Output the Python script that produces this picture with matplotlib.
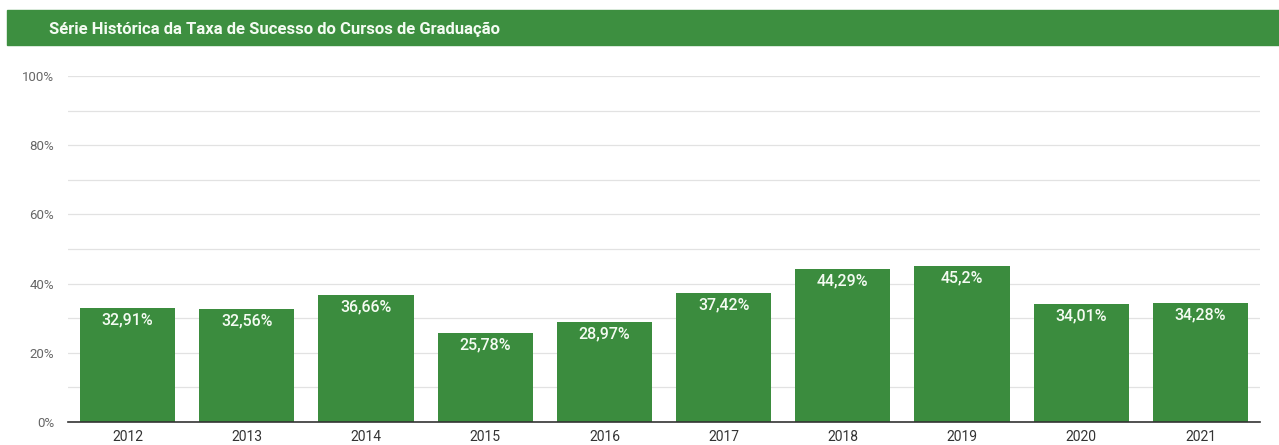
import matplotlib
matplotlib.use("Agg")
import matplotlib.pyplot as plt
from matplotlib.patches import Rectangle

# data
anos = ["2012", "2013", "2014", "2015", "2016", "2017", "2018", "2019", "2020", "2021"]
taxas = [32.91, 32.56, 36.66, 25.78, 28.97, 37.42, 44.29, 45.2, 34.01, 34.28]
rotulos = ["32,91%", "32,56%", "36,66%", "25,78%", "28,97%", "37,42%", "44,29%", "45,2%", "34,01%", "34,28%"]
yticks = [0, 20, 40, 60, 80, 100]
ytick_labels = ["0%", "20%", "40%", "60%", "80%", "100%"]

titulo = "Série Histórica da Taxa de Sucesso do Cursos de Graduação"
verde = "#3b8c3e"

plt.rcParams['font.family'] = ['Roboto', 'DejaVu Sans']

W, H = 1279, 445
fig = plt.figure(figsize=(W / 100, H / 100), dpi=100)

# title banner
fig.patches.append(Rectangle((7 / W, 1 - 45 / H), 1 - 7 / W, 35 / H,
                             transform=fig.transFigure, color="#3d8f40", zorder=0))
fig.text(49 / W, 1 - 34 / H, titulo, color="#f4fbf2", fontsize=12,
         fontweight="bold", va="baseline", ha="left")

ax = fig.add_axes([68 / W, 1 - 422 / H, (1260 - 68) / W, (422 - 76) / H])
x = range(len(anos))
bars = ax.bar(x, taxas, width=0.8, color=verde, zorder=3)

for b, lab in zip(bars, rotulos):
    ax.text(b.get_x() + b.get_width() / 2, b.get_height() - 1.3, lab,
            ha="center", va="top", color="#f4fbf2", fontsize=11.5,
            fontweight="medium", zorder=4)

ax.set_xlim(-0.5, len(anos) - 0.5)
ax.set_ylim(0, 100)
ax.set_yticks(yticks)
ax.set_yticklabels(ytick_labels, fontsize=9.5, color="#666666")
ax.set_yticks(range(10, 100, 20), minor=True)
ax.set_xticks(list(x))
ax.set_xticklabels(anos, fontsize=10, color="#333333")
ax.tick_params(axis="both", which="both", length=0)
ax.tick_params(axis="y", pad=10)
ax.tick_params(axis="x", pad=6)
ax.grid(axis="y", which="both", color="#e2e2e2", linewidth=0.9, zorder=0)

for s in ["top", "right", "left"]:
    ax.spines[s].set_visible(False)
ax.spines["bottom"].set_color("#333333")
ax.spines["bottom"].set_linewidth(1.2)
ax.spines["bottom"].set_zorder(5)

plt.savefig("out.png", dpi=100)
plt.close()
